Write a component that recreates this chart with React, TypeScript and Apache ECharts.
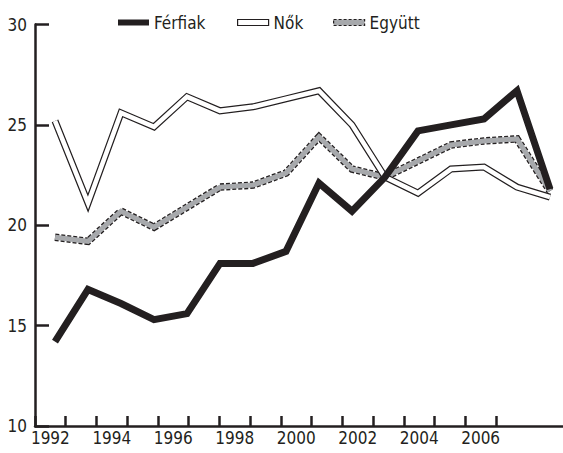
import React, { useEffect, useRef } from 'react';
import * as echarts from 'echarts';

const years = [1992, 1993, 1994, 1995, 1996, 1997, 1998, 1999, 2000, 2001, 2002, 2003, 2004, 2005, 2006, 2007];
const ferfiak = [14.2, 16.8, 16.1, 15.3, 15.6, 18.1, 18.1, 18.7, 22.1, 20.7, 22.4, 24.7, 25.0, 25.3, 26.7, 21.8];
const nok = [25.2, 21.1, 25.6, 24.9, 26.4, 25.7, 25.9, 26.3, 26.7, 25.0, 22.4, 21.6, 22.8, 22.9, 21.9, 21.4];
const egyutt = [19.4, 19.2, 20.7, 19.9, 20.9, 21.9, 22.0, 22.6, 24.4, 22.8, 22.4, 23.2, 24.0, 24.2, 24.3, 21.7];
const axisYears = ['1992', '1993', '1994', '1995', '1996', '1997', '1998', '1999', '2000', '2001', '2002', '2003', '2004', '2005', '2006'];
const yMin = 10;
const yMax = 30;
const yStep = 5;

const FONT = '"DejaVu Sans Condensed", "Liberation Sans Narrow", sans-serif';
const INK = '#231f20';
const GRAY = '#a7a9ac';

export default function App() {
  const ref = useRef<HTMLDivElement>(null);
  useEffect(() => {
    if (!ref.current) return;
    const chart = echarts.init(ref.current, null, { renderer: 'svg' });
    const pts = (arr: number[]) => years.map((y, i) => [y, arr[i]]);
    const common = {
      type: 'line',
      showSymbol: false,
      symbol: 'none',
      silent: true,
      xAxisIndex: 0,
      yAxisIndex: 0,
      emphasis: { disabled: true },
    };
    const legendBase = {
      top: 14,
      padding: 0,
      itemWidth: 31,
      itemHeight: 6,
      selectedMode: false,
      textStyle: { fontFamily: FONT, fontSize: 17, color: INK },
    };
    chart.setOption({
      animation: false,
      grid: [
        { left: 35, right: 0, top: 24.5, bottom: 27, containLabel: false },
        { left: 35, width: 461, top: 24.5, bottom: 27, containLabel: false },
      ],
      legend: [
        { ...legendBase, left: 118, data: [{ name: 'Férfiak', icon: 'rect', itemStyle: { color: INK, borderWidth: 0 } }] },
        { ...legendBase, left: 237, data: [{ name: 'Nők', icon: 'rect', itemStyle: { color: '#fff', borderColor: INK, borderWidth: 1.2 } }] },
        { ...legendBase, left: 333, data: [{ name: 'Együtt', icon: 'rect', itemStyle: { color: GRAY, borderColor: INK, borderWidth: 1.2, borderType: [3, 2] } }] },
      ],
      xAxis: [
        {
          type: 'value',
          gridIndex: 0,
          min: 1991.394,
          max: 2007.394,
          axisLine: { show: true, onZero: false, lineStyle: { color: INK, width: 2.5 } },
          axisTick: { show: false },
          axisLabel: { show: false },
          splitLine: { show: false },
        },
        {
          type: 'category',
          gridIndex: 1,
          data: axisYears,
          boundaryGap: true,
          axisLine: { show: false },
          axisTick: { show: true, inside: true, length: 10, interval: 0, lineStyle: { color: INK, width: 2.5 } },
          axisLabel: { interval: 1, margin: 3, fontFamily: FONT, fontSize: 17, color: INK },
          splitLine: { show: false },
        },
      ],
      yAxis: [
        {
          type: 'value',
          gridIndex: 0,
          min: yMin,
          max: yMax,
          interval: yStep,
          axisLine: { show: true, lineStyle: { color: INK, width: 2.5 } },
          axisTick: { show: true, inside: true, length: 14, lineStyle: { color: INK, width: 2.5 } },
          axisLabel: { margin: 8, fontFamily: FONT, fontSize: 17, color: INK },
          splitLine: { show: false },
        },
        {
          type: 'value',
          gridIndex: 1,
          min: yMin,
          max: yMax,
          show: false,
        },
      ],
      series: [
        { ...common, name: 'Együtt', data: pts(egyutt), lineStyle: { color: INK, width: 7.5, type: [4, 2], join: 'miter', cap: 'butt' } },
        { ...common, name: 'Együtt', data: pts(egyutt), lineStyle: { color: GRAY, width: 5, join: 'miter', cap: 'butt' } },
        { ...common, name: 'Nők', data: pts(nok), lineStyle: { color: INK, width: 7, join: 'miter', cap: 'butt' } },
        { ...common, name: 'Nők', data: pts(nok), lineStyle: { color: '#ffffff', width: 4.6, join: 'miter', cap: 'butt' } },
        { ...common, name: 'Férfiak', data: pts(ferfiak), lineStyle: { color: INK, width: 7, join: 'miter', cap: 'butt' } },
      ],
    });
    return () => chart.dispose();
  }, []);
  return <div ref={ref} style={{ width: 563, height: 453, position: 'absolute', left: 0, top: 0 }} />;
}
